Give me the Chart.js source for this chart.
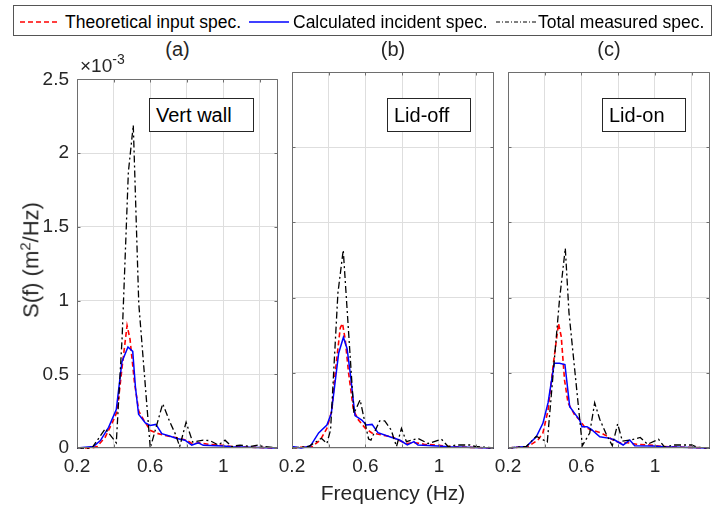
<!DOCTYPE html>
<html><head><meta charset="utf-8">
<script src="https://cdn.jsdelivr.net/npm/chart.js@4.4.1/dist/chart.umd.min.js"></script>
<style>
html,body{margin:0;padding:0;background:#fff;}
#fig{position:relative;width:712px;height:513px;overflow:hidden;font-family:"Liberation Sans",Arial,sans-serif;color:#262626;}
.cv{position:absolute;top:60px;}
.lab{position:absolute;white-space:nowrap;line-height:1;}
#legend{position:absolute;left:13px;top:5px;width:697px;height:29px;border:1px solid #555;background:#fff;}
.lt{position:absolute;top:6px;font-size:17.5px;color:#000;}
.ls{position:absolute;top:14px;}
.note{position:absolute;top:98px;height:32px;border:1px solid #262626;background:#fff;font-size:20px;color:#000;line-height:32px;padding-left:6px;box-sizing:content-box;z-index:5;}
</style></head><body>
<div id="fig">
 <canvas id="cA" class="cv" width="285" height="453" style="left:0px"></canvas>
 <canvas id="cB" class="cv" width="235" height="453" style="left:262px"></canvas>
 <canvas id="cC" class="cv" width="234" height="453" style="left:478px"></canvas>

 <div id="legend">
  <svg class="ls" style="left:6px" width="40" height="4"><line x1="0" y1="2" x2="40" y2="2" stroke="#ff0000" stroke-width="1.5" stroke-dasharray="5,3"/></svg>
  <span class="lt" style="left:51px">Theoretical input spec.</span>
  <svg class="ls" style="left:235px" width="40" height="4"><line x1="0" y1="2" x2="40" y2="2" stroke="#0000ff" stroke-width="1.5"/></svg>
  <span class="lt" style="left:279px">Calculated incident spec.</span>
  <svg class="ls" style="left:482px" width="40" height="4"><line x1="0" y1="2" x2="40" y2="2" stroke="#000" stroke-width="1" stroke-dasharray="4,2,1,2"/></svg>
  <span class="lt" style="left:524px">Total measured spec.</span>
 </div>

 <div class="lab" style="left:177.5px;top:39px;font-size:20px;transform:translateX(-50%)">(a)</div>
 <div class="lab" style="left:393px;top:39px;font-size:20px;transform:translateX(-50%)">(b)</div>
 <div class="lab" style="left:609px;top:39px;font-size:20px;transform:translateX(-50%)">(c)</div>
 <div class="lab" style="left:80px;top:53px;font-size:19px">&times;10<sup style="font-size:14px;position:relative;top:-1px">-3</sup></div>

 <div class="note" style="left:149px;width:97px">Vert wall</div>
 <div class="note" style="left:387px;width:76px">Lid-off</div>
 <div class="note" style="left:602px;width:76px">Lid-on</div>

 <div class="lab" style="left:30px;top:260px;font-size:22px;transform:translate(-50%,-50%) rotate(-90deg)">S(f) (m<sup style="font-size:15px">2</sup>/Hz)</div>
 <div class="lab" style="left:393px;top:482px;font-size:21px;transform:translateX(-50%)">Frequency (Hz)</div>
</div>
<script>
// ---- tick definitions ----
const xTickVals = [0.2, 0.4, 0.6, 0.8, 1.0, 1.2];
const xTickLabels = ['0.2', '', '0.6', '', '1', ''];
const yTickVals = [0, 0.5, 1, 1.5, 2, 2.5];
const yTickLabels = ['0', '0.5', '1', '1.5', '2', '2.5'];
const panelNames = ['Vert wall', 'Lid-off', 'Lid-on'];
const seriesNames = ['Theoretical input spec.', 'Calculated incident spec.', 'Total measured spec.'];

// ---- panel (a) Vert wall : frequency (Hz) and S(f) (x1e-3 m^2/Hz) ----
const theoA_f = [0.2, 0.28, 0.31, 0.355, 0.40, 0.42, 0.446, 0.474, 0.49, 0.514, 0.538, 0.565, 0.60, 0.638, 0.675, 0.747, 0.80, 0.83, 0.87, 0.92, 0.98, 1.05, 1.15, 1.3];
const theoA_v = [0, 0, 0.01, 0.075, 0.19, 0.25, 0.54, 0.83, 0.74, 0.45, 0.25, 0.19, 0.12, 0.10, 0.086, 0.07, 0.053, 0.03, 0.035, 0.025, 0.02, 0.01, 0.005, 0];
const calcA_f = [0.2, 0.29, 0.328, 0.373, 0.415, 0.446, 0.479, 0.505, 0.52, 0.537, 0.574, 0.60, 0.632, 0.664, 0.71, 0.746, 0.791, 0.828, 0.864, 0.891, 1.0, 1.05, 1.3];
const calcA_v = [0, 0.01, 0.05, 0.14, 0.26, 0.585, 0.685, 0.655, 0.41, 0.23, 0.17, 0.153, 0.16, 0.097, 0.08, 0.064, 0.053, 0.02, 0.035, 0.018, 0.013, 0.008, 0];
const measA_f = [0.2, 0.282, 0.355, 0.415, 0.447, 0.481, 0.508, 0.538, 0.601, 0.669, 0.707, 0.74, 0.762, 0.797, 0.833, 0.891, 0.928, 0.973, 1.01, 1.046, 1.092, 1.146, 1.19, 1.22, 1.3];
const measA_v = [0, 0, 0.131, 0.035, 0.75, 1.87, 2.19, 0.98, 0.0, 0.30, 0.18, 0.09, 0.01, 0.175, 0.04, 0.053, 0.05, 0.02, 0.053, 0.01, 0.02, 0.01, 0.02, 0.01, 0];

// ---- panel (b) Lid-off ----
const theoB_f = [0.2, 0.31, 0.354, 0.39, 0.417, 0.435, 0.463, 0.475, 0.49, 0.508, 0.535, 0.562, 0.60, 0.635, 0.69, 0.743, 0.78, 0.82, 0.87, 0.92, 0.98, 1.05, 1.15, 1.3];
const theoB_v = [0, 0.01, 0.053, 0.13, 0.25, 0.5, 0.8, 0.828, 0.72, 0.5, 0.25, 0.186, 0.13, 0.10, 0.086, 0.075, 0.053, 0.03, 0.035, 0.025, 0.02, 0.01, 0.005, 0];
const calcB_f = [0.2, 0.25, 0.30, 0.345, 0.39, 0.414, 0.454, 0.48, 0.50, 0.517, 0.543, 0.58, 0.605, 0.636, 0.668, 0.74, 0.786, 0.828, 0.864, 0.886, 0.995, 1.05, 1.3];
const calcB_v = [0.01, 0, 0.013, 0.1, 0.153, 0.23, 0.63, 0.736, 0.66, 0.5, 0.215, 0.186, 0.153, 0.157, 0.102, 0.071, 0.053, 0.02, 0.042, 0.02, 0.013, 0.009, 0];
const measB_f = [0.2, 0.29, 0.336, 0.36, 0.39, 0.41, 0.45, 0.479, 0.537, 0.571, 0.59, 0.617, 0.63, 0.677, 0.705, 0.74, 0.769, 0.796, 0.823, 0.886, 0.941, 1.014, 1.05, 1.094, 1.17, 1.2, 1.3];
const measB_v = [0, 0.01, 0.045, 0.065, 0.03, 0.12, 1.03, 1.316, 0.23, 0.32, 0.21, 0.06, 0.053, 0.18, 0.18, 0.12, 0.01, 0.13, 0.042, 0.064, 0.03, 0.058, 0.01, 0.02, 0.02, 0.01, 0];

// ---- panel (c) Lid-on ----
const theoC_f = [0.2, 0.31, 0.363, 0.39, 0.418, 0.445, 0.475, 0.49, 0.508, 0.527, 0.563, 0.59, 0.617, 0.654, 0.708, 0.744, 0.772, 0.81, 0.85, 0.9, 0.97, 1.05, 1.15, 1.3];
const theoC_v = [0, 0.01, 0.053, 0.1, 0.25, 0.54, 0.828, 0.74, 0.45, 0.3, 0.22, 0.186, 0.14, 0.12, 0.1, 0.075, 0.053, 0.035, 0.035, 0.025, 0.02, 0.01, 0.005, 0];
const calcC_f = [0.2, 0.3, 0.354, 0.39, 0.418, 0.452, 0.48, 0.51, 0.536, 0.563, 0.59, 0.603, 0.63, 0.654, 0.7, 0.754, 0.781, 0.827, 0.863, 0.89, 0.99, 1.045, 1.3];
const calcC_v = [0, 0.01, 0.075, 0.164, 0.3, 0.563, 0.563, 0.555, 0.275, 0.23, 0.186, 0.142, 0.142, 0.124, 0.075, 0.064, 0.053, 0.02, 0.053, 0.015, 0.013, 0.009, 0];
const measC_f = [0.2, 0.3, 0.354, 0.414, 0.48, 0.512, 0.532, 0.605, 0.645, 0.672, 0.7, 0.736, 0.768, 0.797, 0.823, 0.867, 0.92, 0.96, 1.02, 1.053, 1.1, 1.2, 1.23, 1.3];
const measC_v = [0, 0.01, 0.078, 0.04, 0.98, 1.328, 0.9, 0.015, 0.1, 0.3, 0.19, 0.09, 0.015, 0.16, 0.045, 0.053, 0.07, 0.025, 0.058, 0.005, 0.02, 0.02, 0.005, 0];

// ---- styling ----
const AXIS = '#6e6e6e';
const GRID = '#dedede';
const TXT = '#262626';
const FONT = '"Liberation Sans", Arial, sans-serif';

const pts = (f, v) => f.map((x, i) => ({x: x, y: v[i]}));

const frame = {
  id: 'frame',
  afterDraw(chart) {
    const {ctx, chartArea: a, scales: {x, y}} = chart;
    ctx.save();
    ctx.strokeStyle = AXIS; ctx.lineWidth = 1;
    const L = Math.round(a.left) + 0.5, R = Math.round(a.right) - 0.5;
    const T = Math.round(a.top) + 0.5, B = Math.round(a.bottom) - 0.5;
    ctx.beginPath();
    ctx.rect(L, T, R - L, B - T);
    xTickVals.forEach(v => {
      const px = Math.round(x.getPixelForValue(v)) + 0.5;
      ctx.moveTo(px, B); ctx.lineTo(px, B - 3);
      ctx.moveTo(px, T); ctx.lineTo(px, T + 3);
    });
    yTickVals.forEach(v => {
      const py = Math.round(y.getPixelForValue(v)) + 0.5;
      ctx.moveTo(L, py); ctx.lineTo(L + 3, py);
      ctx.moveTo(R, py); ctx.lineTo(R - 3, py);
    });
    ctx.stroke();
    ctx.restore();
  }
};

function makeChart(id, theo, calc, meas, yWidth, padRight, showY) {
  return new Chart(document.getElementById(id), {
    type: 'line',
    data: {
      datasets: [
        {label: seriesNames[2], data: meas, borderColor: '#000', borderWidth: 1.3, borderDash: [7, 3, 2, 3], order: 0},
        {label: seriesNames[1], data: calc, borderColor: '#0000ff', borderWidth: 1.5, order: 1},
        {label: seriesNames[0], data: theo, borderColor: '#ff0000', borderWidth: 1.6, borderDash: [5, 3], order: 2}
      ].map(d => Object.assign(d, {pointRadius: 0, tension: 0, fill: false, clip: 3}))
    },
    options: {
      responsive: false, animation: false, devicePixelRatio: 1,
      layout: {padding: {left: 0, right: padRight, top: 12, bottom: 0}},
      plugins: {legend: {display: false}, tooltip: {enabled: false}},
      scales: {
        x: {
          type: 'linear', min: 0.2, max: 1.3,
          afterBuildTicks: s => { s.ticks = xTickVals.map(v => ({value: v})); },
          afterFit: s => { s.height = 65; },
          ticks: {autoSkip: false, maxRotation: 0, padding: 7, color: TXT,
                  font: {family: FONT, size: 19},
                  callback: (v, i) => xTickLabels[i]},
          grid: {color: GRID, drawTicks: false, lineWidth: 1},
          border: {display: false}
        },
        y: {
          type: 'linear', min: 0, max: 2.5,
          afterBuildTicks: s => { s.ticks = yTickVals.map(v => ({value: v})); },
          afterFit: s => { s.width = yWidth; },
          ticks: {display: showY, padding: 8, color: TXT,
                  font: {family: FONT, size: 19},
                  callback: (v, i) => yTickLabels[i]},
          grid: {color: GRID, drawTicks: false, lineWidth: 1},
          border: {display: false}
        }
      }
    },
    plugins: [frame]
  });
}

makeChart('cA', pts(theoA_f, theoA_v), pts(calcA_f, calcA_v), pts(measA_f, measA_v), 77, 7, true);
makeChart('cB', pts(theoB_f, theoB_v), pts(calcB_f, calcB_v), pts(measB_f, measB_v), 30, 3, false);
makeChart('cC', pts(theoC_f, theoC_v), pts(calcC_f, calcC_v), pts(measC_f, measC_v), 30, 2, false);
</script>
</body></html>
